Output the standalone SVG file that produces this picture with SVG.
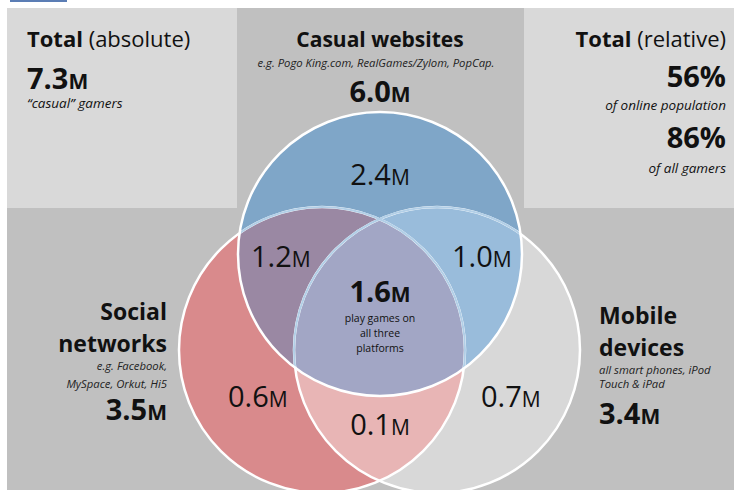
<svg xmlns="http://www.w3.org/2000/svg" width="734" height="490" viewBox="0 0 734 490">
<style>
text{font-family:"Open Sans","Noto Sans",sans-serif;fill:#111}
.b{font-weight:700}
.i{font-style:italic}
.num{font-size:29px}
.sm{font-size:21px}
.bnum{font-size:29px;font-weight:700}
.title{font-size:23px;font-weight:700}
.note{font-size:11.3px;font-style:italic;fill:#222}
.ring{fill:none;stroke:#fff;stroke-width:2.5}
.ringin{fill:none;stroke:#b2cfe7;stroke-width:2}
</style>
<defs>
<clipPath id="cRed"><circle cx="322" cy="350" r="143"/></clipPath>
<clipPath id="cGray"><circle cx="437" cy="350" r="143"/></clipPath>
<clipPath id="cBlue"><circle cx="380" cy="254" r="142"/></clipPath>
</defs>
<rect width="734" height="490" fill="#fff"/>
<rect x="10" y="0" width="57" height="2" fill="#5b7db4"/>
<g id="panels">
<rect x="7" y="8" width="727" height="482" fill="#c0c0c0"/>
<rect x="7" y="8" width="230" height="200" fill="#d9d9d9"/>
<rect x="524" y="8" width="210" height="200" fill="#d9d9d9"/>
</g>
<g id="total-absolute">
<text x="27" y="47" font-size="22"><tspan class="b">Total</tspan> (absolute)</text>
<text x="27" y="89" class="bnum">7.3<tspan class="sm">M</tspan></text>
<text x="27" y="108" class="i" font-size="13.5">“casual” gamers</text>
</g>
<g id="total-relative" text-anchor="end">
<text x="726" y="47" font-size="22"><tspan class="b">Total</tspan> (relative)</text>
<text x="726" y="87" class="bnum" font-size="30">56%</text>
<text x="726" y="110" class="i" font-size="13.5">of online population</text>
<text x="726" y="148" class="bnum" font-size="30">86%</text>
<text x="726" y="173" class="i" font-size="13.5">of all gamers</text>
</g>
<g id="venn">
<circle cx="322" cy="350" r="143" fill="#d98a8c"/>
<circle cx="437" cy="350" r="143" fill="#d8d8d8"/>
<circle cx="380" cy="254" r="142" fill="#7fa6c8"/>
<g clip-path="url(#cRed)"><circle cx="437" cy="350" r="143" fill="#e8b5b5"/></g>
<g clip-path="url(#cRed)"><circle cx="380" cy="254" r="142" fill="#9a88a3"/></g>
<g clip-path="url(#cGray)"><circle cx="380" cy="254" r="142" fill="#99bcdb"/></g>
<g clip-path="url(#cRed)"><g clip-path="url(#cGray)"><circle cx="380" cy="254" r="142" fill="#a2a6c5"/></g></g>
<circle class="ring" cx="322" cy="350" r="143"/>
<circle class="ring" cx="437" cy="350" r="143"/>
<g clip-path="url(#cBlue)">
<circle class="ringin" cx="322" cy="350" r="143"/>
<circle class="ringin" cx="437" cy="350" r="143"/>
</g>
<circle class="ring" cx="380" cy="254" r="142"/>
</g>
<g id="casual-websites" text-anchor="middle">
<text x="380" y="47" font-size="21" class="b">Casual websites</text>
<text x="376" y="67" class="note" font-size="10.5">e.g. Pogo King.com, RealGames/Zylom, PopCap.</text>
<text x="380" y="102" class="bnum">6.0<tspan class="sm">M</tspan></text>
<text x="380" y="185" class="num">2.4<tspan class="sm">M</tspan></text>
</g>
<g id="social-networks" text-anchor="end">
<text x="167" y="320" class="title">Social</text>
<text x="167" y="352" class="title">networks</text>
<text x="167" y="370" class="note">e.g. Facebook,</text>
<text x="167" y="388" class="note">MySpace, Orkut, Hi5</text>
<text x="167" y="420" class="bnum">3.5<tspan class="sm">M</tspan></text>
</g>
<g id="mobile-devices">
<text x="599" y="324" class="title">Mobile</text>
<text x="599" y="356" class="title">devices</text>
<text x="599" y="374" class="note" font-size="11">all smart phones, iPod</text>
<text x="599" y="388" class="note" font-size="11">Touch &amp; iPad</text>
<text x="599" y="424" class="bnum">3.4<tspan class="sm">M</tspan></text>
</g>
<g id="region-labels">
<text x="251" y="267" class="num">1.2<tspan class="sm">M</tspan></text>
<text x="452" y="267" class="num">1.0<tspan class="sm">M</tspan></text>
<text x="228" y="407" class="num">0.6<tspan class="sm">M</tspan></text>
<text x="481" y="407" class="num">0.7<tspan class="sm">M</tspan></text>
<g text-anchor="middle">
<text x="380" y="435" class="num">0.1<tspan class="sm">M</tspan></text>
<text x="380" y="302" class="bnum">1.6<tspan class="sm">M</tspan></text>
<text x="380" y="322" font-size="10.5" fill="#333">play games on</text>
<text x="380" y="337" font-size="10.5" fill="#333">all three</text>
<text x="380" y="352" font-size="10.5" fill="#333">platforms</text>
</g>
</g>
</svg>
